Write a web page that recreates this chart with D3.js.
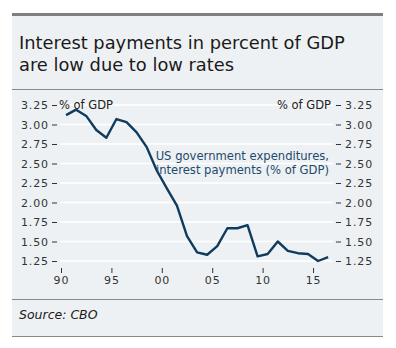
<!DOCTYPE html>
<html>
<head>
<meta charset="utf-8">
<script src="https://cdn.jsdelivr.net/npm/d3@7"></script>
<style>
  body { margin: 0; background: #fff; }
  svg { display: block; }
  text { font-family: "DejaVu Sans", sans-serif; }
</style>
</head>
<body>
<svg id="chart" width="396" height="348"></svg>
<script>
// ----------

const TITLE_LINES = ["Interest payments in percent of GDP", "are low due to low rates"];
const SOURCE_TEXT = "Source: CBO";
const UNIT_LABEL = "% of GDP";
const SERIES_LABEL = ["US government expenditures,", "interest payments (% of GDP)"];

const YEARS = [1990, 1991, 1992, 1993, 1994, 1995, 1996, 1997, 1998, 1999,
  2000, 2001, 2002, 2003, 2004, 2005, 2006, 2007, 2008, 2009,
  2010, 2011, 2012, 2013, 2014, 2015, 2016];
const INTEREST = [3.12, 3.19, 3.11, 2.93, 2.83, 3.07, 3.03, 2.90, 2.71, 2.41,
  2.18, 1.96, 1.57, 1.36, 1.33, 1.44, 1.67, 1.67, 1.71, 1.31,
  1.34, 1.50, 1.38, 1.35, 1.34, 1.25, 1.30];

const Y_TICKS = [1.25, 1.5, 1.75, 2.0, 2.25, 2.5, 2.75, 3.0, 3.25];
const X_TICKS = [1990, 1995, 2000, 2005, 2010, 2015];

const LINE_COLOR = "#0f3b5f";
const PANEL_BG = "#eef1f3";
const AXIS_TEXT = "#333";
const RULE_COLOR = "#8a8a8a";

// ----------

let svg = d3.select("#chart");

// panel
svg.append("rect")
  .attr("x", 12).attr("y", 13)
  .attr("width", 371).attr("height", 323)
  .attr("fill", PANEL_BG);
svg.append("rect")
  .attr("x", 12).attr("y", 13)
  .attr("width", 371).attr("height", 3)
  .attr("fill", "#7f7f7f");
[89.5, 299.5, 336.5].forEach(function (y) {
  svg.append("line")
    .attr("x1", 12).attr("x2", 383)
    .attr("y1", y).attr("y2", y)
    .attr("stroke", RULE_COLOR).attr("stroke-width", 1);
});

// title
let title = svg.append("text")
  .attr("x", 19).attr("y", 49)
  .attr("fill", "#1a1a1a")
  .style("font-size", "18px");
title.selectAll("tspan")
  .data(TITLE_LINES)
  .enter()
  .append("tspan")
  .attr("x", 19)
  .attr("dy", function (d, i) { return i === 0 ? 0 : 22; })
  .text(function (d) { return d; });

// squeeze the first line to the width it has in the picture
let firstLine = title.select("tspan").node();
let w = firstLine.getComputedTextLength();
if (w > 0) title.style("font-size", (18 * 326 / w) + "px");

// scales
let x = d3.scaleLinear().domain([1990, 2017]).range([61, 333.2]);
let y = d3.scaleLinear().domain([1.25, 3.25]).range([261, 105]);

// grid
svg.append("g")
  .selectAll("line")
  .data(Y_TICKS)
  .enter()
  .append("line")
  .attr("x1", 60).attr("x2", 333)
  .attr("y1", function (d) { return y(d); })
  .attr("y2", function (d) { return y(d); })
  .attr("stroke", "#fff").attr("stroke-width", 1.5);

function styleAxis(g) {
  g.select(".domain").remove();
  g.selectAll(".tick line").attr("stroke", AXIS_TEXT);
  g.selectAll(".tick text")
    .attr("fill", AXIS_TEXT)
    .style("font-size", "11px")
    .style("letter-spacing", "0.9px");
}

let yFmt = d3.format(".2f");

svg.append("g")
  .attr("transform", "translate(57,0)")
  .call(d3.axisLeft(y).tickValues(Y_TICKS).tickFormat(yFmt).tickSize(5).tickPadding(3))
  .call(styleAxis);

svg.append("g")
  .attr("transform", "translate(336,0)")
  .call(d3.axisRight(y).tickValues(Y_TICKS).tickFormat(yFmt).tickSize(5).tickPadding(4))
  .call(styleAxis);

svg.append("g")
  .attr("transform", "translate(0,268)")
  .call(d3.axisBottom(x).tickValues(X_TICKS)
    .tickFormat(function (d) { return String(d).slice(2); })
    .tickSize(5).tickPadding(3))
  .call(styleAxis);

// unit labels
svg.append("text")
  .attr("x", 59).attr("y", y(3.25)).attr("dy", "0.35em")
  .attr("fill", "#222")
  .style("font-size", "11.5px")
  .text(UNIT_LABEL);
svg.append("text")
  .attr("x", 331).attr("y", y(3.25)).attr("dy", "0.35em")
  .attr("text-anchor", "end")
  .attr("fill", "#222")
  .style("font-size", "11.5px")
  .text(UNIT_LABEL);

// line
let points = YEARS.map(function (yr, i) { return [yr + 0.5, INTEREST[i]]; });
let line = d3.line()
  .x(function (d) { return x(d[0]); })
  .y(function (d) { return y(d[1]); });

svg.append("path")
  .datum(points)
  .attr("d", line)
  .attr("fill", "none")
  .attr("stroke", LINE_COLOR)
  .attr("stroke-width", 2.4)
  .attr("stroke-linejoin", "round");

// series label
svg.append("text")
  .attr("text-anchor", "end")
  .attr("fill", "#1d4a6e")
  .style("font-size", "11.6px")
  .selectAll("tspan")
  .data(SERIES_LABEL)
  .enter()
  .append("tspan")
  .attr("x", 329)
  .attr("y", function (d, i) { return 160 + i * 14; })
  .text(function (d) { return d; });

// source
svg.append("text")
  .attr("x", 19).attr("y", 319)
  .attr("fill", "#1a1a1a")
  .style("font-size", "12.5px")
  .style("font-style", "italic")
  .text(SOURCE_TEXT);
</script>
</body>
</html>
